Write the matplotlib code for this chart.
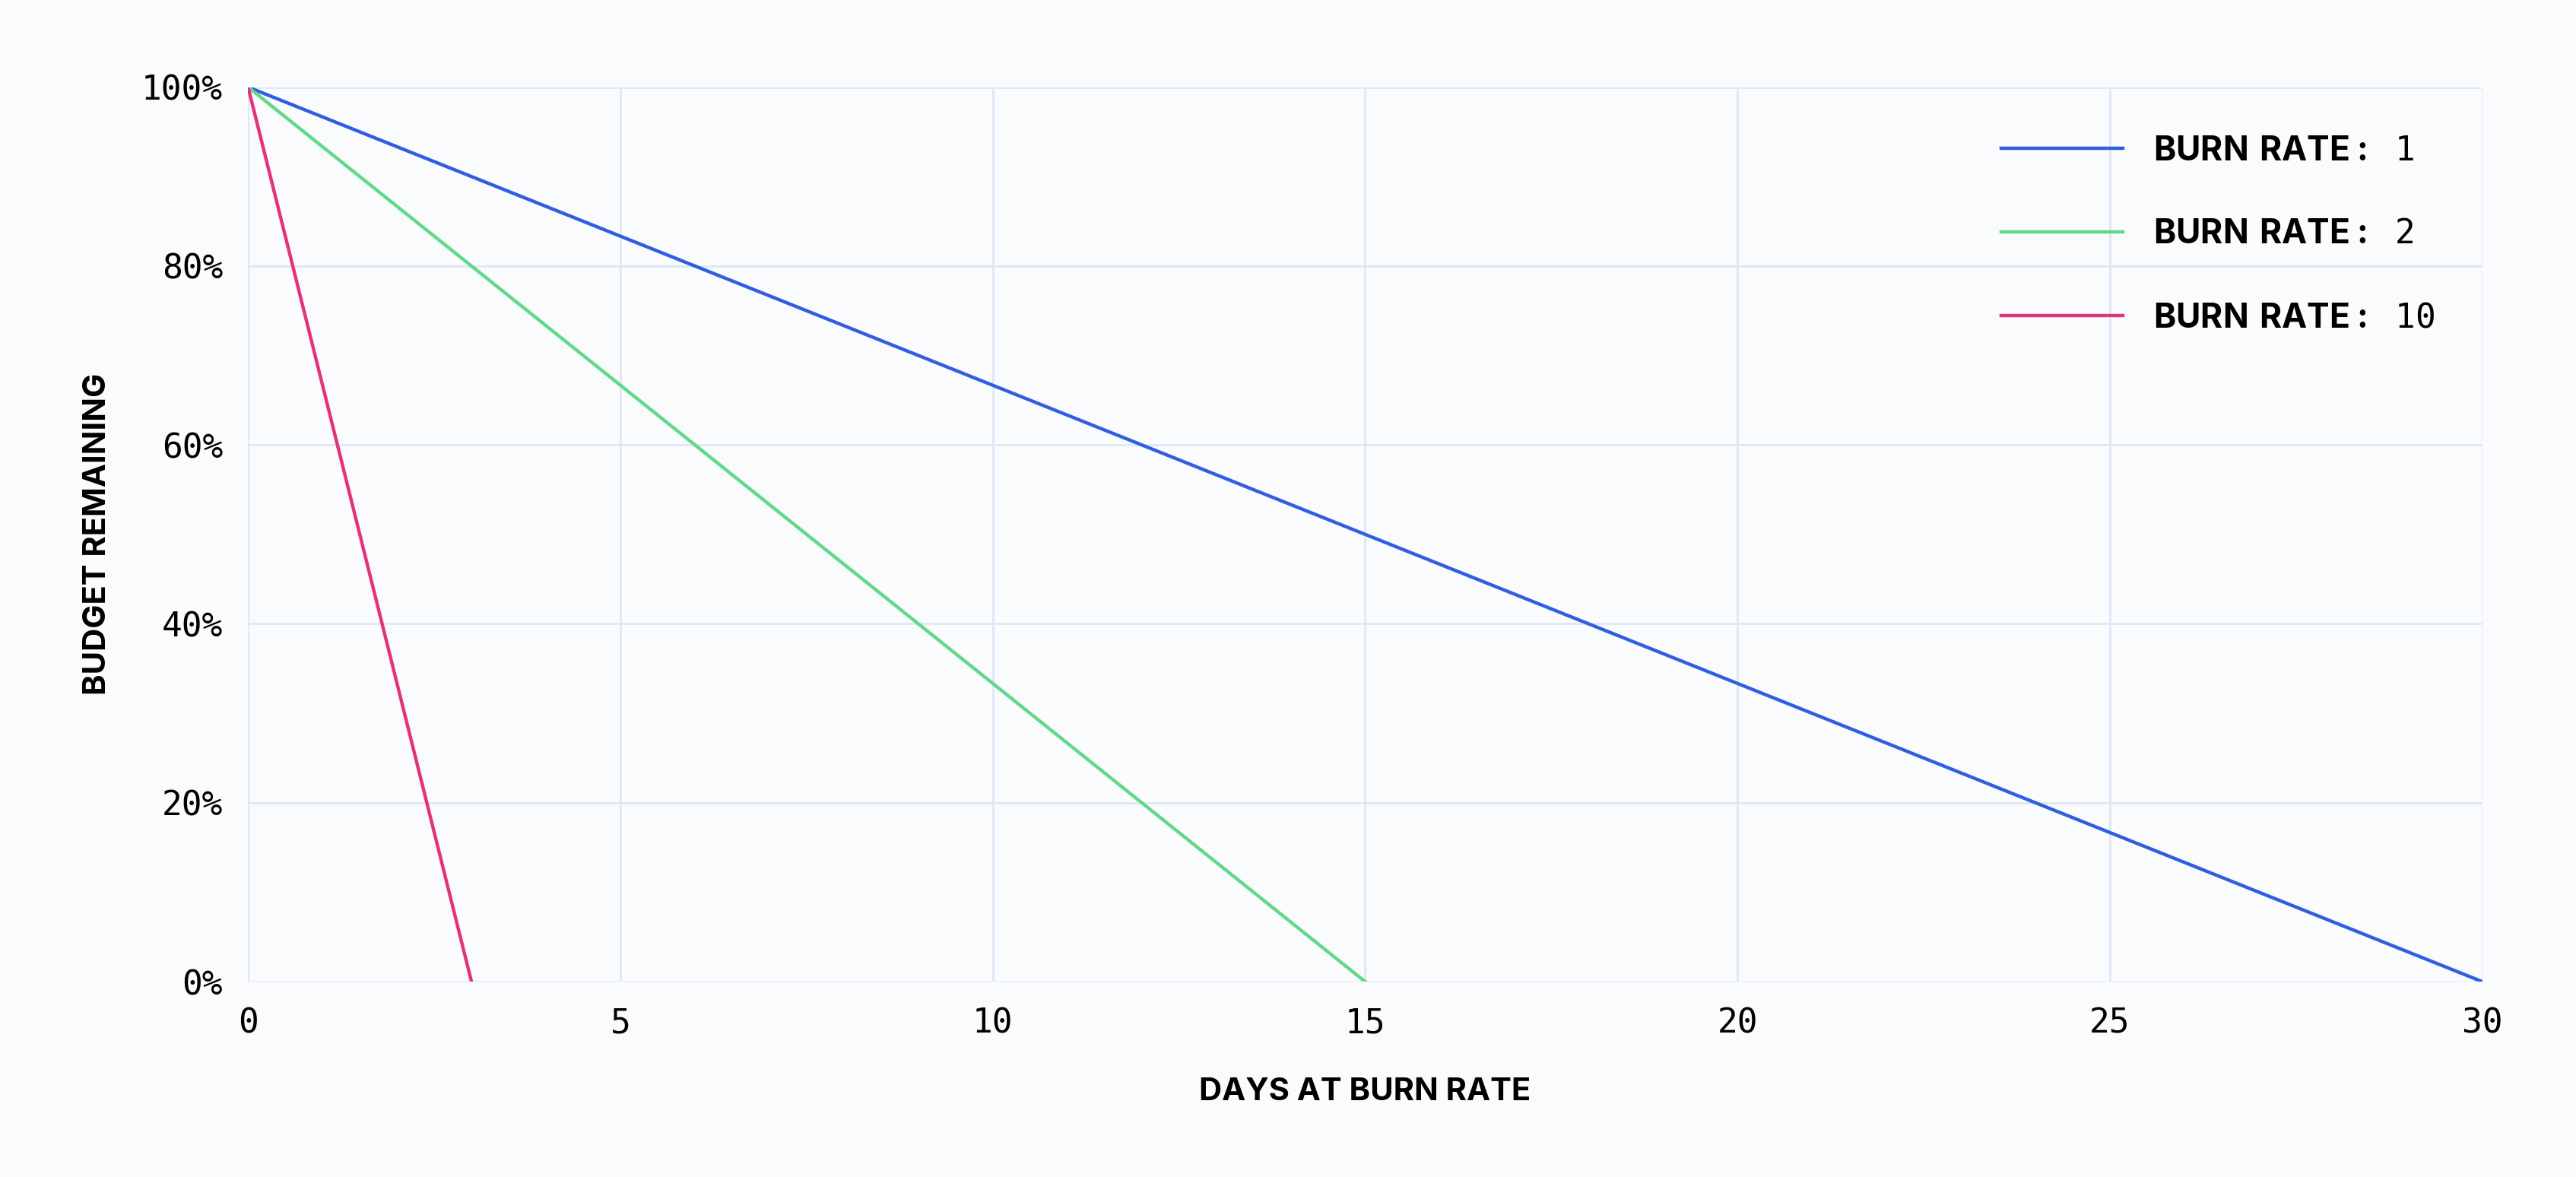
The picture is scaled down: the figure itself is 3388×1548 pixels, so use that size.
import matplotlib
matplotlib.use("Agg")
import matplotlib.pyplot as plt

BURN_RATES = [1, 2, 10]
COLORS = ["#2f5fe0", "#62d98a", "#e3337d"]
BUDGET_DAYS = 30
X_TICKS = [0, 5, 10, 15, 20, 25, 30]
Y_TICKS = [0, 20, 40, 60, 80, 100]

plt.rcParams.update({
    "mathtext.fontset": "custom",
    "mathtext.bf": "Inter:bold",
    "mathtext.rm": "DejaVu Sans Mono",
})

fig = plt.figure(figsize=(16.94, 7.74), dpi=200)
fig.patch.set_facecolor("#fafbfc")
ax = fig.add_axes([0.0963, 0.166, 0.8673, 0.760])
ax.set_facecolor("#fafbfc")

for rate, color in zip(BURN_RATES, COLORS):
    end = BUDGET_DAYS / rate
    ax.plot([0, end], [100, 0], color=color, linewidth=1.6,
            label=r"$\bf{BURN\ RATE{:}}$ " + str(rate))

ax.set_xlim(0, 30)
ax.set_ylim(0, 100)
ax.set_xticks(X_TICKS)
ax.set_yticks(Y_TICKS)
ax.set_yticklabels([f"{v}%" for v in Y_TICKS])
for lab in ax.get_xticklabels() + ax.get_yticklabels():
    lab.set_fontfamily("DejaVu Sans Mono")
    lab.set_fontsize(16)
ax.tick_params(length=0, pad=12)
ax.grid(True, color="#dfe7f7", linewidth=1.0)
ax.set_axisbelow(True)
for s in ax.spines.values():
    s.set_visible(False)

ax.set_xlabel("DAYS AT BURN RATE", fontfamily="Inter", fontweight="bold",
              fontsize=15, labelpad=18)
ax.set_ylabel("BUDGET REMAINING", fontfamily="Inter", fontweight="bold",
              fontsize=15, labelpad=14)

leg = ax.legend(loc="upper right", frameon=False, handlelength=3.6,
                handletextpad=0.9, labelspacing=1.5, borderaxespad=1.0,
                prop={"family": "DejaVu Sans Mono", "size": 16})

fig.savefig("out.png", dpi=200, facecolor=fig.get_facecolor())
